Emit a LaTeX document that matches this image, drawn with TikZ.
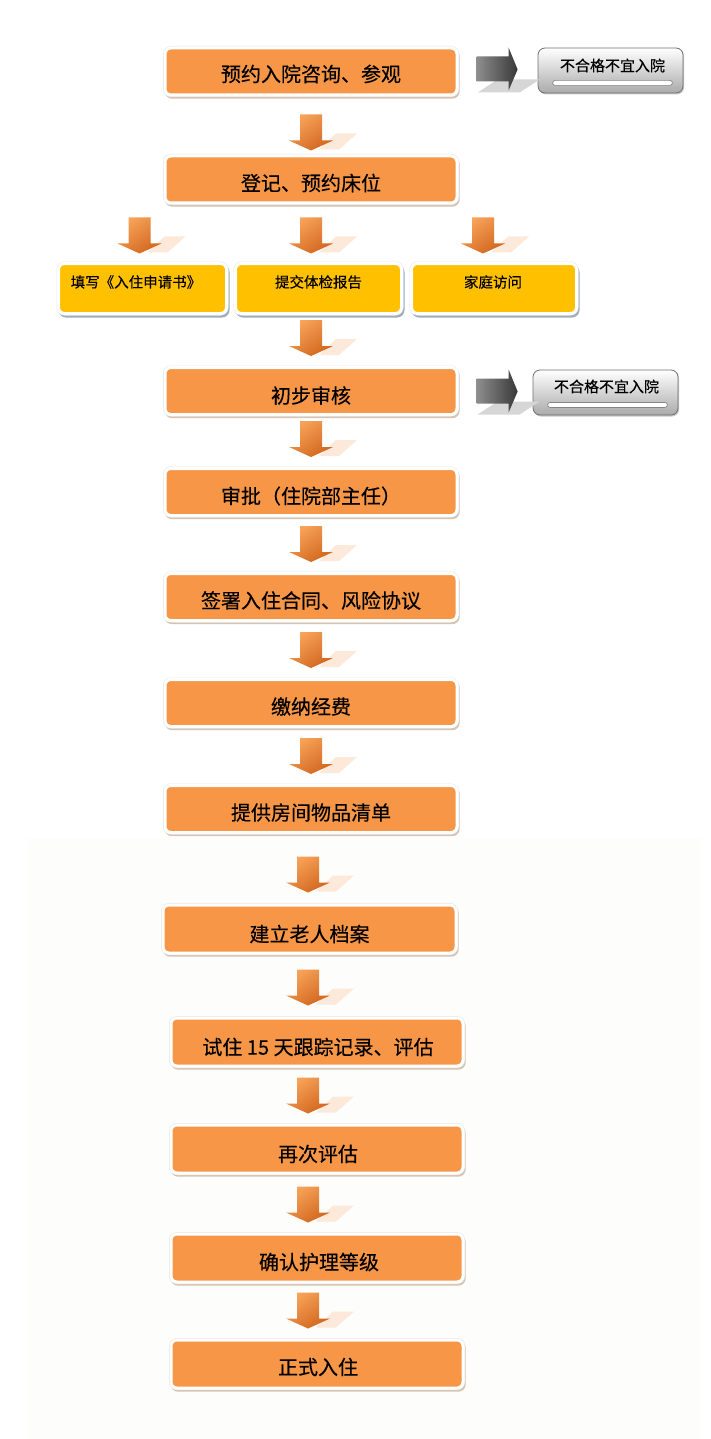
\documentclass[tikz,border=0pt]{standalone}
\usepackage{fontspec}
\setmainfont{Noto Sans CJK SC}[FakeBold=0.3]
\usetikzlibrary{calc,shadows}
\definecolor{orgbox}{HTML}{F79646}
\definecolor{ylwbox}{HTML}{FFC000}
\definecolor{oshadow}{HTML}{D6C3B2}
\definecolor{yshadow}{HTML}{9DADB9}
\definecolor{edgec}{HTML}{E6E6E6}
\definecolor{arrL}{HTML}{F8A45A}
\definecolor{arrR}{HTML}{D2661E}
\definecolor{arrshadow}{HTML}{FDE9DA}
\definecolor{garrL}{HTML}{8E8E8E}
\definecolor{garrR}{HTML}{383838}
\definecolor{garrshadow}{HTML}{D6D6D6}
\definecolor{gboxB}{HTML}{AAAAAA}
\definecolor{gborder}{HTML}{707070}
\definecolor{bgfaint}{HTML}{FDFDFC}

\newcommand\dnarrow[1]{%
  \begin{scope}[shift={#1}]
    \fill[arrshadow] (8,-1) -- (25,-17) -- (46,-17) -- (28,-1) -- cycle;
    \shade[top color=arrL, bottom color=arrR, shading angle=35]
      (-11,-36) -- (11,-36) -- (11,-10) -- (22,-10) -- (0,0) -- (-22,-10) -- (-11,-10) -- cycle;
  \end{scope}}
\newcommand\rtarrow[1]{%
  \begin{scope}[shift={#1}]
    \fill[garrshadow] (-40,23) -- (-20,10) -- (22,10) -- (2,23) -- cycle;
    \shade[left color=garrL, right color=garrR]
      (-41,-13) -- (-9,-13) -- (-9,-22) -- (0,0) -- (-9,21) -- (-9,12) -- (-41,12) -- cycle;
  \end{scope}}

\tikzset{
  obox/.style={rounded corners=6pt, fill=orgbox, draw=white, line width=3pt,
    minimum width=292pt, minimum height=47pt, inner sep=0pt,
    drop shadow={shadow xshift=1.2pt, shadow yshift=-2.2pt, fill=oshadow, draw=oshadow, line width=3pt, opacity=1},
    preaction={draw=edgec, line width=4pt}},
  ybox/.style={rounded corners=6pt, fill=ylwbox, draw=white, line width=3pt,
    minimum height=50pt, inner sep=0pt,
    drop shadow={shadow xshift=1.5pt, shadow yshift=-2.5pt, fill=yshadow, draw=yshadow, line width=3pt, opacity=1},
    preaction={draw=edgec, line width=4pt}},
  gbox/.style={rounded corners=7pt, top color=white, bottom color=gboxB, draw=gborder, line width=0.8pt,
    minimum width=145pt, minimum height=45pt, inner sep=0pt,
    drop shadow={shadow xshift=1pt, shadow yshift=-1.5pt, fill=black!22, opacity=1}},
  mtext/.style={font=\fontsize{20}{24}\selectfont, inner sep=0pt, text=black},
  ytext/.style={font=\fontsize{14.5}{18}\selectfont, inner sep=0pt, text=black},
  gtext/.style={font=\fontsize{15}{18}\selectfont, inner sep=0pt, text=black},
}

\begin{document}
\begin{tikzpicture}[x=1pt,y=-1pt]
\useasboundingbox (0,0) rectangle (710,1439);
\fill[white] (0,0) rectangle (710,1439);
\fill[bgfaint] (28,838) rectangle (700,1439);

% main boxes
\node[obox] (b1) at (311,71.5) {};
\node[obox] (b2) at (311,179.5) {};
\node[ybox, minimum width=168pt] (y1) at (142.5,288.5) {};
\node[ybox, minimum width=166pt] (y2) at (318.5,288.5) {};
\node[ybox, minimum width=165pt] (y3) at (494,288.5) {};
\node[obox] (b3) at (311,391) {};
\node[obox] (b4) at (311,492) {};
\node[obox] (b5) at (311,597) {};
\node[obox] (b6) at (311,703) {};
\node[obox] (b7) at (311,809) {};
\node[obox, minimum width=293pt, minimum height=48pt] (b8) at (309.5,929) {};
\node[obox, minimum height=48pt] (b9) at (317,1042) {};
\node[obox, minimum height=48pt] (b10) at (317,1149) {};
\node[obox, minimum height=48pt] (b11) at (317,1258) {};
\node[obox, minimum height=48pt] (b12) at (317,1364) {};

% texts
\node[mtext] (b1t) at ($(b1.center)+(0,2.5)$) {预约入院咨询、参观};
\node[mtext] (b2t) at ($(b2.center)+(0,3.5)$) {登记、预约床位};
\node[ytext, anchor=west] (y1t) at ($(y1.west)+(13.5,-6.5)$) {填写《入住申请书》};
\node[ytext] (y2t) at ($(y2.center)+(0,-6.5)$) {提交体检报告};
\node[ytext] (y3t) at ($(y3.center)+(-1,-6.5)$) {家庭访问};
\node[mtext] (b3t) at ($(b3.center)+(0,4.5)$) {初步审核};
\node[mtext] (b4t) at ($(b4.center)+(0,4)$) {审批（住院部主任）};
\node[mtext] (b5t) at ($(b5.center)+(0,3.5)$) {签署入住合同、风险协议};
\node[mtext] (b6t) at ($(b6.center)+(0,3.5)$) {缴纳经费};
\node[mtext] (b7t) at ($(b7.center)+(0,3.5)$) {提供房间物品清单};
\node[mtext] (b8t) at ($(b8.center)+(0,5)$) {建立老人档案};
\node[mtext] (b9t) at ($(b9.center)+(1,5)$) {试住 15 天跟踪记录、评估};
\node[mtext] (b10t) at ($(b10.center)+(1,5)$) {再次评估};
\node[mtext] (b11t) at ($(b11.center)+(2,4)$) {确认护理等级};
\node[mtext] (b12t) at ($(b12.center)+(1,3)$) {正式入住};

% reject boxes
\node[gbox] (g1) at (610.5,70.5) {};
\node[gbox] (g2) at (605.5,392.5) {};
\filldraw[fill=white, draw=gborder!85, line width=0.7pt, rounded corners=2.5pt]
  ($(g1.south west)+(15,-13)$) rectangle ($(g1.south east)+(-11,-8)$);
\filldraw[fill=white, draw=gborder!85, line width=0.7pt, rounded corners=2.5pt]
  ($(g2.south west)+(15,-13)$) rectangle ($(g2.south east)+(-11,-8)$);
\node[gtext] (g1t) at ($(g1.center)+(2,-5)$) {不合格不宜入院};
\node[gtext] (g2t) at ($(g2.center)+(1,-6)$) {不合格不宜入院};

% right (gray) arrows
\rtarrow{($(g1.west)+(-20,-1)$)}
\rtarrow{($(g2.west)+(-15,-1)$)}

% down arrows
\dnarrow{($(b2.north)+(0,-4)$)}
\dnarrow{($(y1.north)+(-3,-8.5)$)}
\dnarrow{($(y2.north)+(-7.5,-8.5)$)}
\dnarrow{($(y3.north)+(-11,-8.5)$)}
\dnarrow{($(b3.north)+(0,-10)$)}
\dnarrow{($(b4.north)+(0,-10)$)}
\dnarrow{($(b5.north)+(0,-10)$)}
\dnarrow{($(b6.north)+(0,-10)$)}
\dnarrow{($(b7.north)+(0,-10)$)}
\dnarrow{($(b8.north)+(-1.5,-11)$)}
\dnarrow{($(b9.north)+(-9,-11)$)}
\dnarrow{($(b10.north)+(-9,-10)$)}
\dnarrow{($(b11.north)+(-9,-10)$)}
\dnarrow{($(b12.north)+(-9,-10)$)}
\end{tikzpicture}
\end{document}
